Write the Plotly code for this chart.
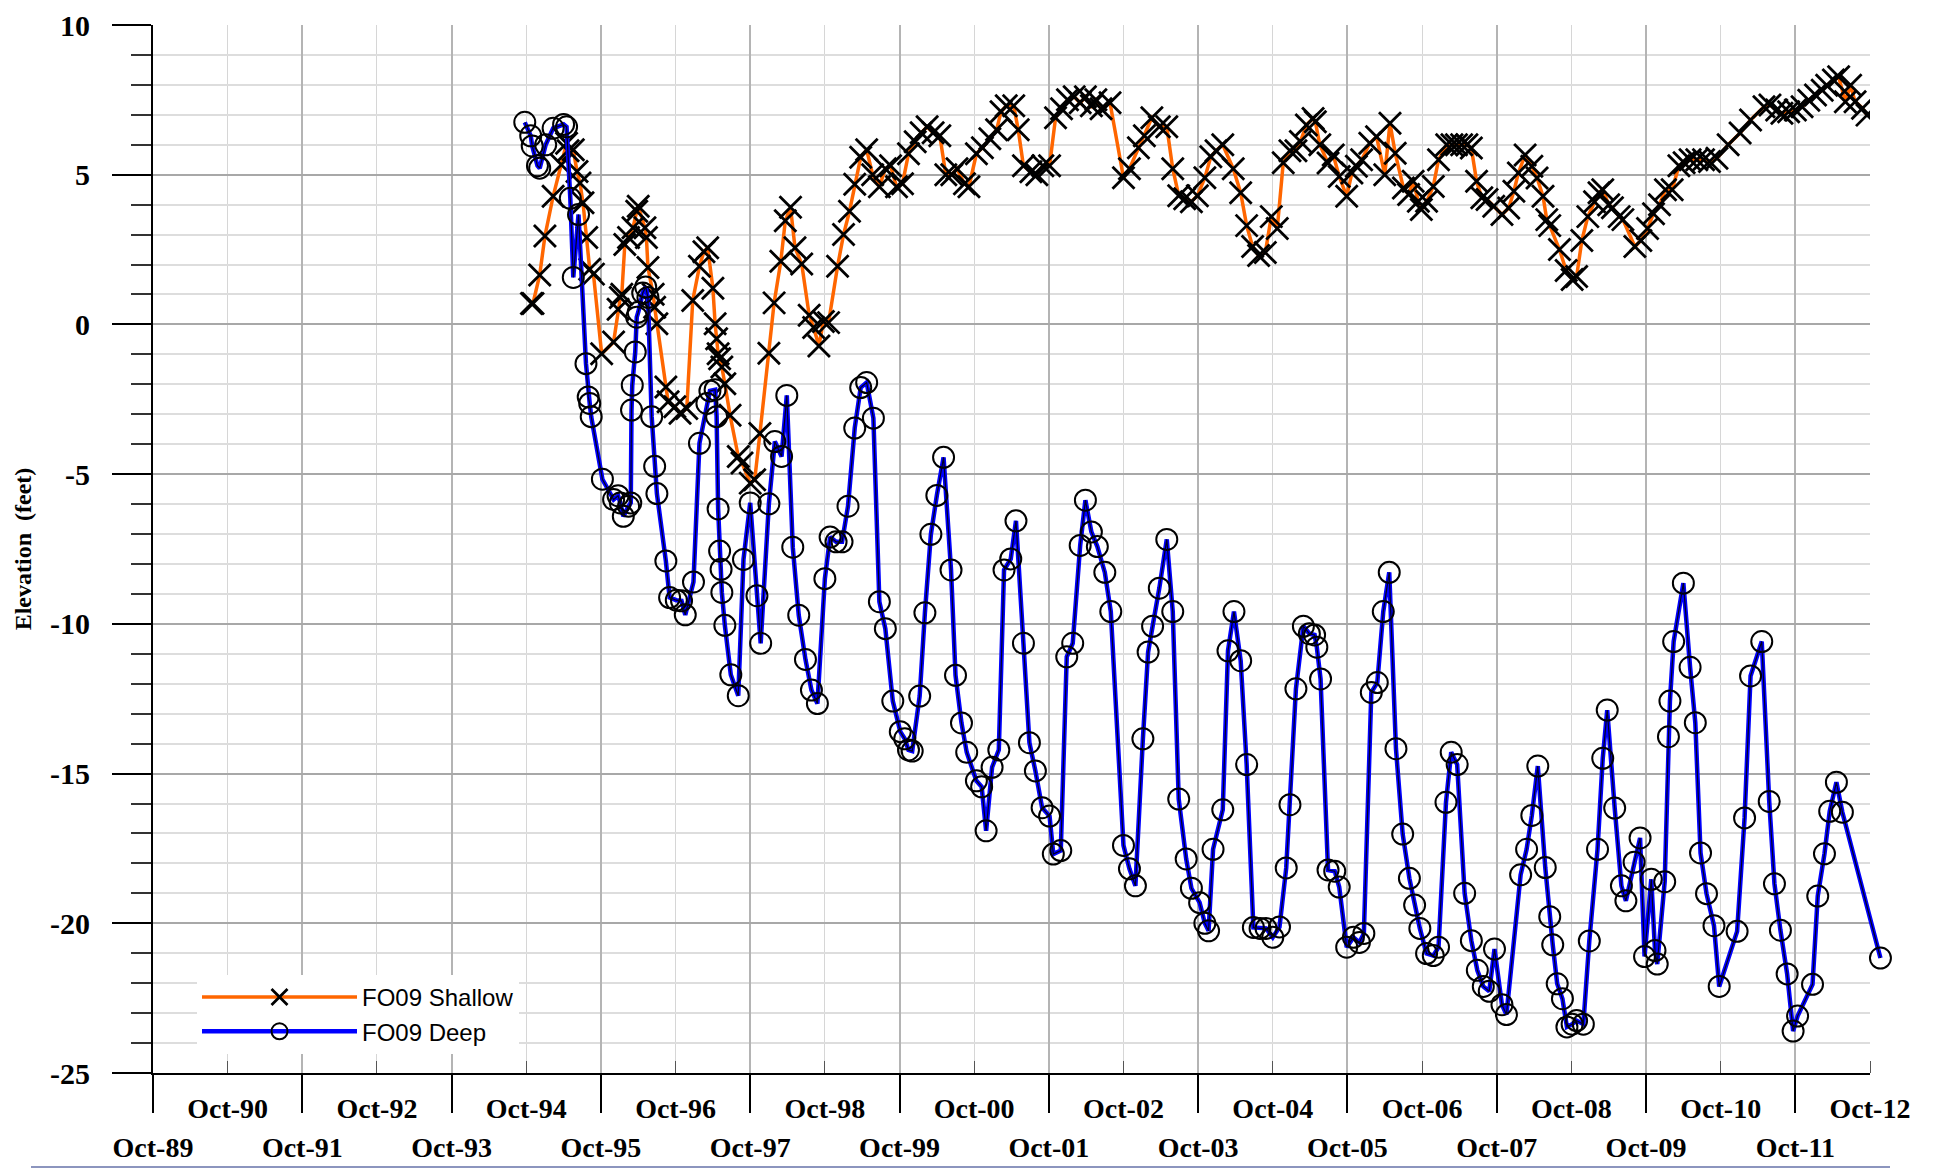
import plotly.graph_objects as go

# ---------------- data (x in decimal years, Oct = .75) ----------------
shallow_year = [1994.82, 1994.84, 1994.93, 1995.00, 1995.11, 1995.22, 1995.29, 1995.31, 1995.38, 1995.43,
                1995.47, 1995.51, 1995.56, 1995.60, 1995.65, 1995.76, 1995.92, 1995.98, 1996.01, 1996.03,
                1996.07, 1996.12, 1996.18, 1996.23, 1996.25, 1996.34, 1996.36, 1996.38, 1996.45, 1996.47,
                1996.50, 1996.62, 1996.65, 1996.74, 1996.81, 1996.90, 1996.98, 1997.07, 1997.13, 1997.18,
                1997.25, 1997.28, 1997.30, 1997.32, 1997.34, 1997.37, 1997.41, 1997.48, 1997.59, 1997.64,
                1997.75, 1997.81, 1997.88, 1998.00, 1998.07, 1998.16, 1998.22, 1998.29, 1998.35, 1998.44,
                1998.54, 1998.60, 1998.67, 1998.73, 1998.80, 1998.92, 1999.00, 1999.08, 1999.15, 1999.23,
                1999.31, 1999.39, 1999.48, 1999.56, 1999.63, 1999.71, 1999.79, 1999.87, 1999.96, 2000.04,
                2000.12, 2000.20, 2000.29, 2000.37, 2000.45, 2000.52, 2000.62, 2000.68, 2000.78, 2000.86,
                2000.96, 2001.05, 2001.11, 2001.18, 2001.28, 2001.34, 2001.41, 2001.51, 2001.59, 2001.67,
                2001.76, 2001.84, 2001.92, 2002.00, 2002.09, 2002.17, 2002.24, 2002.32, 2002.38, 2002.45,
                2002.57, 2002.75, 2002.83, 2002.95, 2003.03, 2003.13, 2003.23, 2003.33, 2003.41, 2003.49,
                2003.57, 2003.66, 2003.74, 2003.84, 2003.92, 2003.99, 2004.08, 2004.22, 2004.32, 2004.40,
                2004.48, 2004.56, 2004.65, 2004.73, 2004.81, 2004.89, 2004.98, 2005.06, 2005.12, 2005.20,
                2005.29, 2005.32, 2005.38, 2005.49, 2005.56, 2005.64, 2005.74, 2005.81, 2005.87, 2005.94,
                2006.05, 2006.14, 2006.25, 2006.32, 2006.39, 2006.50, 2006.57, 2006.63, 2006.70, 2006.74,
                2006.81, 2006.90, 2006.97, 2007.08, 2007.15, 2007.21, 2007.28, 2007.35, 2007.41, 2007.48,
                2007.55, 2007.62, 2007.71, 2007.82, 2007.91, 2007.98, 2008.04, 2008.13, 2008.22, 2008.29,
                2008.37, 2008.42, 2008.46, 2008.59, 2008.68, 2008.76, 2008.82, 2008.89, 2008.97, 2009.06,
                2009.12, 2009.17, 2009.25, 2009.30, 2009.39, 2009.44, 2009.60, 2009.68, 2009.77, 2009.85,
                2009.93, 2010.01, 2010.10, 2010.19, 2010.26, 2010.34, 2010.43, 2010.52, 2010.60, 2010.70,
                2010.85, 2011.01, 2011.15, 2011.33, 2011.41, 2011.50, 2011.57, 2011.66, 2011.75, 2011.84,
                2011.93, 2012.02, 2012.11, 2012.17, 2012.26, 2012.33, 2012.42, 2012.49, 2012.55, 2012.65,
                2012.71]
shallow_ft = [0.70, 0.70, 1.65, 2.95, 4.28, 5.33, 6.05, 5.80, 5.83, 5.11,
              4.72, 4.06, 2.90, 1.84, 1.68, -0.98, -0.59, 0.51, 0.90, 1.01,
              2.67, 2.90, 3.23, 3.78, 3.95, 3.23, 2.90, 1.90, 1.01, 0.57,
              0.02, -2.09, -2.58, -2.75, -2.97, -2.81, 0.80, 1.94, 2.43, 2.56,
              1.21, 0.02, -0.48, -0.98, -1.15, -1.42, -1.98, -3.03, -4.41, -4.63,
              -5.30, -5.19, -3.64, -0.96, 0.72, 2.11, 3.46, 3.91, 2.56, 2.02,
              0.31, -0.10, -0.72, 0.10, 0.06, 1.94, 3.00, 3.78, 4.68, 5.58,
              5.83, 5.00, 4.60, 5.20, 5.30, 4.60, 4.70, 5.70, 6.10, 6.40,
              6.60, 6.40, 6.30, 5.00, 5.00, 5.20, 4.70, 4.60, 5.70, 5.90,
              6.20, 6.50, 7.10, 7.30, 7.30, 6.50, 5.30, 5.10, 5.00, 5.30,
              5.30, 6.90, 7.20, 7.50, 7.60, 7.40, 7.60, 7.30, 7.50, 7.20,
              7.40, 4.90, 5.20, 5.90, 6.30, 6.90, 6.60, 6.60, 5.20, 4.30,
              4.20, 4.10, 4.30, 4.90, 5.60, 5.80, 6.00, 5.20, 4.40, 3.30,
              2.60, 2.30, 2.40, 3.60, 3.20, 5.40, 5.80, 5.80, 6.11, 6.66,
              6.88, 6.77, 6.00, 5.39, 5.66, 4.94, 4.28, 5.06, 5.28, 5.50,
              6.05, 6.27, 5.00, 6.72, 5.72, 4.56, 4.34, 4.78, 4.11, 3.84,
              4.11, 4.61, 5.50, 6.00, 6.00, 6.00, 6.00, 6.00, 5.89, 4.78,
              4.23, 4.17, 3.95, 3.67, 3.89, 4.45, 5.06, 5.66, 5.28, 4.89,
              4.28, 3.50, 3.30, 2.50, 1.80, 1.50, 1.60, 2.80, 3.60, 4.10,
              4.40, 4.50, 4.00, 3.90, 3.60, 3.50, 2.60, 2.80, 3.20, 3.70,
              4.00, 4.50, 4.50, 5.30, 5.40, 5.50, 5.50, 5.50, 5.44, 5.55,
              6.00, 6.39, 6.83, 7.27, 7.33, 7.16, 7.05, 7.10, 7.16, 7.27,
              7.49, 7.66, 7.82, 7.99, 8.16, 8.27, 7.44, 7.99, 7.44, 7.22,
              6.99]

deep_year = [1994.73, 1994.81, 1994.83, 1994.90, 1994.93, 1995.01, 1995.11, 1995.25, 1995.29, 1995.34,
             1995.38, 1995.45, 1995.55, 1995.58, 1995.60, 1995.62, 1995.77, 1995.92, 1995.98, 1996.01,
             1996.05, 1996.12, 1996.15, 1996.16, 1996.17, 1996.21, 1996.23, 1996.25, 1996.31, 1996.35,
             1996.38, 1996.43, 1996.47, 1996.50, 1996.62, 1996.67, 1996.76, 1996.83, 1996.88, 1996.99,
             1997.07, 1997.17, 1997.21, 1997.28, 1997.30, 1997.32, 1997.34, 1997.36, 1997.37, 1997.41,
             1997.49, 1997.59, 1997.66, 1997.75, 1997.84, 1997.89, 1998.00, 1998.08, 1998.17, 1998.24,
             1998.32, 1998.40, 1998.49, 1998.57, 1998.65, 1998.75, 1998.82, 1998.90, 1998.98, 1999.06,
             1999.15, 1999.23, 1999.31, 1999.40, 1999.48, 1999.56, 1999.66, 1999.76, 1999.82, 1999.87,
             1999.92, 2000.02, 2000.09, 2000.17, 2000.25, 2000.34, 2000.44, 2000.50, 2000.58, 2000.65,
             2000.78, 2000.85, 2000.91, 2000.99, 2001.08, 2001.15, 2001.24, 2001.31, 2001.41, 2001.49,
             2001.57, 2001.66, 2001.76, 2001.81, 2001.91, 2001.99, 2002.07, 2002.17, 2002.24, 2002.32,
             2002.40, 2002.50, 2002.58, 2002.75, 2002.83, 2002.91, 2003.01, 2003.08, 2003.14, 2003.23,
             2003.33, 2003.41, 2003.49, 2003.59, 2003.66, 2003.77, 2003.84, 2003.89, 2003.95, 2004.08,
             2004.15, 2004.23, 2004.32, 2004.40, 2004.49, 2004.58, 2004.66, 2004.75, 2004.84, 2004.93,
             2004.98, 2005.06, 2005.16, 2005.24, 2005.31, 2005.34, 2005.39, 2005.49, 2005.58, 2005.64,
             2005.74, 2005.83, 2005.91, 2005.97, 2006.07, 2006.15, 2006.23, 2006.31, 2006.40, 2006.49,
             2006.58, 2006.65, 2006.72, 2006.81, 2006.90, 2006.97, 2007.07, 2007.14, 2007.22, 2007.32,
             2007.41, 2007.49, 2007.57, 2007.65, 2007.72, 2007.82, 2007.88, 2008.07, 2008.15, 2008.22,
             2008.30, 2008.40, 2008.46, 2008.50, 2008.56, 2008.63, 2008.69, 2008.76, 2008.82, 2008.91,
             2008.99, 2009.10, 2009.17, 2009.23, 2009.33, 2009.42, 2009.48, 2009.59, 2009.67, 2009.73,
             2009.82, 2009.87, 2009.90, 2010.00, 2010.05, 2010.07, 2010.12, 2010.25, 2010.34, 2010.41,
             2010.48, 2010.56, 2010.66, 2010.73, 2010.97, 2011.07, 2011.15, 2011.30, 2011.40, 2011.47,
             2011.55, 2011.64, 2011.72, 2011.78, 2011.98, 2012.05, 2012.14, 2012.21, 2012.30, 2012.38,
             2012.89]
deep_ft = [6.75, 6.30, 5.96, 5.30, 5.22, 6.00, 6.55, 6.68, 6.60, 4.21,
           1.57, 3.67, -1.31, -2.42, -2.64, -3.08, -5.17, -5.85, -5.72, -5.96,
           -6.41, -6.07, -5.96, -2.86, -2.03, -0.92, 0.24, 0.41, 1.05, 1.25,
           0.90, -3.08, -4.74, -5.65, -7.90, -9.12, -9.21, -9.23, -9.70, -8.60,
           -3.97, -2.64, -2.22, -2.18, -3.08, -6.16, -7.57, -8.18, -8.95, -10.05,
           -11.70, -12.40, -7.85, -5.96, -9.06, -10.65, -5.99, -3.91, -4.41, -2.37,
           -7.44, -9.71, -11.19, -12.21, -12.66, -8.49, -7.10, -7.26, -7.26, -6.07,
           -3.46, -2.11, -1.94, -3.13, -9.26, -10.16, -12.58, -13.60, -13.84, -14.21,
           -14.25, -12.41, -9.63, -7.01, -5.71, -4.44, -8.20, -11.72, -13.31, -14.29,
           -15.24, -15.44, -16.91, -14.79, -14.21, -8.20, -7.83, -6.56, -10.65, -13.97,
           -14.91, -16.14, -16.42, -17.69, -17.57, -11.10, -10.65, -7.38, -5.87, -6.93,
           -7.42, -8.28, -9.59, -17.40, -18.18, -18.75, -13.84, -10.94, -10.08, -8.81,
           -7.18, -9.59, -15.85, -17.85, -18.83, -19.31, -20.00, -20.25, -17.53, -16.21,
           -10.90, -9.59, -11.23, -14.70, -20.14, -20.17, -20.17, -20.47, -20.12, -18.15,
           -16.04, -12.17, -10.08, -10.33, -10.37, -10.78, -11.84, -18.22, -18.26, -18.79,
           -20.80, -20.47, -20.64, -20.34, -12.29, -11.96, -9.59, -8.28, -14.17, -17.02,
           -18.50, -19.39, -20.17, -21.01, -21.08, -20.80, -15.96, -14.29, -14.70, -19.00,
           -20.58, -21.57, -22.11, -22.27, -20.86, -22.72, -23.05, -18.38, -17.53, -16.40,
           -14.75, -18.14, -19.78, -20.72, -22.02, -22.52, -23.46, -23.37, -23.25, -23.37,
           -20.59, -17.53, -14.49, -12.88, -16.15, -18.75, -19.25, -17.96, -17.15, -21.11,
           -18.53, -20.91, -21.36, -18.61, -13.77, -12.58, -10.59, -8.64, -11.45, -13.30,
           -17.65, -19.01, -20.08, -22.11, -20.27, -16.48, -11.74, -10.59, -15.93, -18.68,
           -20.23, -21.69, -23.60, -23.10, -22.04, -19.09, -17.68, -16.26, -15.29, -16.29,
           -21.16]

# axis ticks (October of each year)
odd_tick_pos = [1989.75, 1991.75, 1993.75, 1995.75, 1997.75, 1999.75,
                2001.75, 2003.75, 2005.75, 2007.75, 2009.75, 2011.75]
odd_tick_text = ["Oct-89", "Oct-91", "Oct-93", "Oct-95", "Oct-97", "Oct-99",
                 "Oct-01", "Oct-03", "Oct-05", "Oct-07", "Oct-09", "Oct-11"]
even_tick_pos = [1990.75, 1992.75, 1994.75, 1996.75, 1998.75, 2000.75,
                 2002.75, 2004.75, 2006.75, 2008.75, 2010.75, 2012.75]
even_tick_text = ["Oct-90", "Oct-92", "Oct-94", "Oct-96", "Oct-98", "Oct-00",
                  "Oct-02", "Oct-04", "Oct-06", "Oct-08", "Oct-10", "Oct-12"]
y_tick_vals = [10, 5, 0, -5, -10, -15, -20, -25]
y_tick_text = ["10", "5", "0", "-5", "-10", "-15", "-20", "-25"]

x_range = [1989.75, 2012.75]
y_range = [-25, 10]

# ---------------- layout geometry ----------------
FIG_W, FIG_H = 1917, 1160
M_L, M_R, M_T, M_B = 145, 25, 17, 95
AXIS_RIGHT_PX = 1862                       # right end of the visible x axis
plot_w = FIG_W - M_L - M_R
plot_h = FIG_H - M_T - M_B
x_dom = (AXIS_RIGHT_PX - M_L) / plot_w     # x axis domain fraction
# wider (invisible) axis so points just past the axis end are still drawn
x_range_wide = [x_range[0], x_range[0] + (x_range[1] - x_range[0]) / x_dom]

serif_bold = dict(family="Liberation Serif, Times New Roman, serif", color="black", weight="bold")

fig = go.Figure()

fig.add_trace(go.Scatter(
    x=shallow_year, y=shallow_ft, name="FO09 Shallow", mode="lines+markers",
    line=dict(color="#FF6600", width=3.5),
    marker=dict(symbol="x-thin-open", size=22, color="black", line=dict(color="black", width=2.8)),
))
fig.add_trace(go.Scatter(
    x=deep_year, y=deep_ft, name="FO09 Deep", mode="lines+markers",
    xaxis="x2", yaxis="y2",
    line=dict(color="#0000FF", width=4.5),
    marker=dict(symbol="circle-open", size=21, color="black", line=dict(color="black", width=2)),
))
# dark core of the deep-well line (same data)
fig.add_trace(go.Scatter(
    x=deep_year, y=deep_ft, mode="lines", xaxis="x2", yaxis="y2", showlegend=False,
    line=dict(color="#000022", width=1.2), hoverinfo="skip",
))
# xaxis3 (second row of date labels) needs a subplot: empty placeholder trace
fig.add_trace(go.Scatter(x=[], y=[], xaxis="x3", yaxis="y", showlegend=False, hoverinfo="skip"))

fig.update_layout(
    width=FIG_W, height=FIG_H,
    margin=dict(l=M_L, r=M_R, t=M_T, b=M_B, autoexpand=False),
    paper_bgcolor="white", plot_bgcolor="rgba(0,0,0,0)",
    showlegend=True,
    legend=dict(
        x=(197 - 8 - M_L) / plot_w, y=(FIG_H - M_B - (975 - 8)) / plot_h,
        xanchor="left", yanchor="top",
        bgcolor="white", borderwidth=0,
        font=dict(family="Liberation Sans, Arial, sans-serif", size=24, color="black"),
        itemwidth=155, tracegroupgap=0,
    ),
    xaxis=dict(
        domain=[0, x_dom], range=x_range, tickmode="array", tickvals=odd_tick_pos, ticktext=odd_tick_text,
        ticks="outside", ticklen=38, tickwidth=1.5, tickcolor="black",
        tickfont=dict(size=28, **serif_bold), ticklabelstandoff=10,
        showgrid=True, gridcolor="#b4b4b4", gridwidth=1.6,
        minor=dict(tickmode="array", tickvals=even_tick_pos, ticks="inside", ticklen=12,
                   tickwidth=1, tickcolor="#555555", showgrid=True, gridcolor="#d6d6d6", gridwidth=1.2),
        showline=True, linecolor="black", linewidth=2,
        zeroline=False, automargin=False,
    ),
    xaxis3=dict(
        range=x_range, overlaying="x", anchor="y", side="bottom",
        tickmode="array", tickvals=even_tick_pos, ticktext=even_tick_text,
        ticks="", tickfont=dict(size=28, **serif_bold), ticklabelstandoff=16,
        showgrid=False, showline=False, zeroline=False, automargin=False,
    ),
    yaxis=dict(
        range=y_range, tickmode="array", tickvals=y_tick_vals, ticktext=y_tick_text,
        ticks="outside", ticklen=39, tickwidth=1.5, tickcolor="black",
        tickfont=dict(size=30, **serif_bold), ticklabelstandoff=16, ticklabeloverflow="allow",
        showgrid=True, gridcolor="#a8a8a8", gridwidth=1.6,
        minor=dict(dtick=1, ticks="outside", ticklen=20, tickwidth=1.5, tickcolor="#333333",
                   showgrid=True, gridcolor="#dddddd", gridwidth=2),
        showline=True, linecolor="black", linewidth=2,
        zeroline=False, automargin=False,
        title=dict(text="Elevation  (feet)", standoff=12,
                   font=dict(size=24, **serif_bold)),
    ),
    xaxis2=dict(domain=[0, 1], range=x_range_wide, anchor="y2", visible=False,
                showgrid=False, zeroline=False),
    yaxis2=dict(range=y_range, anchor="x2", visible=False, showgrid=False, zeroline=False),
)

# thin frame rule at the bottom of the page
rule_y = -(1159 - (FIG_H - M_B)) / plot_h
fig.add_shape(type="line", xref="paper", yref="paper",
              x0=(31 - 8 - M_L) / plot_w, x1=(1890 - 8 - M_L) / plot_w,
              y0=rule_y, y1=rule_y,
              line=dict(color="#6672a8", width=1.5))

fig.write_html("out.html")
